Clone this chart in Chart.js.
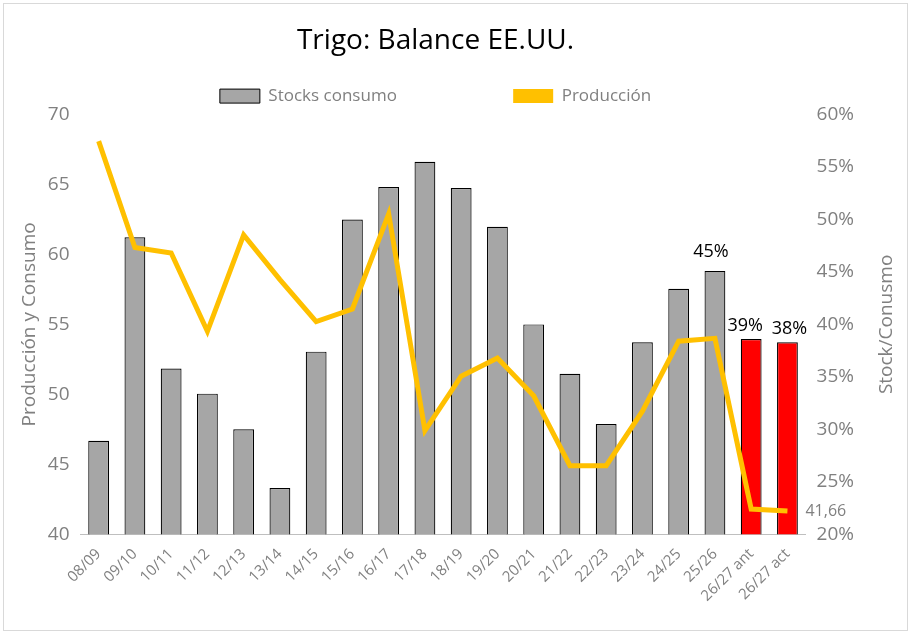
<!DOCTYPE html>
<html><head><meta charset="utf-8">
<script src="https://cdn.jsdelivr.net/npm/chart.js@4"></script>
<style>
html,body{margin:0;padding:0;background:#fff;}
#wrap{position:absolute;left:3px;top:3px;width:905px;height:628px;border:1px solid #d9d9d9;box-sizing:border-box;}
</style></head>
<body><div id="wrap"><canvas id="c"></canvas></div>
<script>
const campaigns = ['08/09','09/10','10/11','11/12','12/13','13/14','14/15','15/16','16/17','17/18','18/19','19/20','20/21','21/22','22/23','23/24','24/25','25/26','26/27 ant','26/27 act'];
const stocksConsumo = [28.9,48.3,35.8,33.4,30.0,24.4,37.4,50.0,53.1,55.5,53.0,49.3,40.0,35.3,30.5,38.3,43.4,45.1,38.6,38.3];
const produccion = [68.1,60.5,60.1,54.5,61.4,58.2,55.2,56.1,62.9,47.4,51.3,52.6,49.9,44.9,44.9,48.8,53.8,54.0,41.8,41.66];
const barLabels = {17:'45%',18:'39%',19:'38%'};

const grey = '#808080';
const FONT = "'Open Sans', 'Liberation Sans', sans-serif";
const barColors = campaigns.map((c, i) => i >= 18 ? '#ff0000' : '#a6a6a6');

const labelPlugin = {
    id: 'labels',
    afterDatasetsDraw(chart) {
        const ctx = chart.ctx;
        const bars = chart.getDatasetMeta(0).data;
        ctx.save();
        ctx.font = "18px " + FONT;
        ctx.fillStyle = '#000';
        ctx.textAlign = 'center';
        ctx.textBaseline = 'bottom';
        Object.keys(barLabels).forEach(k => {
            const b = bars[k];
            const dx = k == 17 ? -4 : (k == 18 ? -6 : 2);
            ctx.fillText(barLabels[k], b.x + dx, b.y - (k == 17 ? 10 : 4));
        });
        const pts = chart.getDatasetMeta(1).data;
        const last = pts[pts.length - 1];
        ctx.font = "16px " + FONT;
        ctx.fillStyle = grey;
        ctx.textAlign = 'left';
        ctx.textBaseline = 'middle';
        ctx.fillText('41,66', last.x + 18, last.y);
        // right axis title, reading bottom to top
        const a = chart.chartArea;
        ctx.translate(chart.width - 20, (a.top + a.bottom) / 2);
        ctx.rotate(-Math.PI / 2);
        ctx.textAlign = 'center';
        ctx.font = "19px " + FONT;
        ctx.fillText('Stock/Conusmo', 0, 0);
        ctx.restore();
    }
};

new Chart(document.getElementById('c'), {
    data: {
        labels: campaigns,
        datasets: [{
            type: 'bar',
            label: 'Stocks consumo',
            data: stocksConsumo,
            yAxisID: 'y1',
            backgroundColor: barColors,
            borderColor: '#000',
            borderWidth: 1.2,
            categoryPercentage: 0.82,
            barPercentage: 0.7,
            order: 2,
        }, {
            type: 'line',
            label: 'Producción',
            data: produccion,
            yAxisID: 'y',
            borderColor: '#ffc000',
            backgroundColor: '#ffc000',
            borderWidth: 5,
            pointRadius: 0,
            tension: 0,
            order: 1,
        }],
    },
    options: {
        responsive: true,
        maintainAspectRatio: false,
        animation: false,
        layout: { padding: { left: 10, right: 50, bottom: 22, top: 4 } },
        plugins: {
            title: {
                display: true,
                text: 'Trigo: Balance EE.UU.',
                color: '#000',
                font: { family: FONT, size: 28, weight: 'normal' },
                padding: { top: 16, bottom: 2 },
            },
            legend: {
                labels: {
                    color: grey,
                    font: { family: FONT, size: 17 },
                    boxWidth: 40, boxHeight: 14,
                    padding: 28,
                    generateLabels() {
                        return [
                            { text: 'Stocks consumo                    ', fillStyle: '#a6a6a6', strokeStyle: '#000', lineWidth: 1, fontColor: grey },
                            { text: 'Producción', fillStyle: '#ffc000', strokeStyle: '#ffc000', lineWidth: 0, fontColor: grey },
                        ];
                    },
                },
            },
            tooltip: { enabled: false },
        },
        scales: {
            x: {
                grid: { display: false },
                border: { color: '#bfbfbf' },
                ticks: { color: grey, maxRotation: 45, minRotation: 45, font: { family: FONT, size: 15 } },
            },
            y: {
                position: 'left',
                min: 40, max: 70,
                ticks: { stepSize: 5, color: grey, font: { family: FONT, size: 19 } },
                grid: { display: false },
                border: { display: false },
                title: { display: true, text: 'Producción y Consumo', color: grey, font: { family: FONT, size: 19 } },
            },
            y1: {
                position: 'right',
                min: 20, max: 60,
                ticks: { stepSize: 5, color: grey, callback: v => v + '%', font: { family: FONT, size: 19 } },
                grid: { display: false },
                border: { display: false },
            },
        },
    },
    plugins: [labelPlugin],
});
</script></body></html>
